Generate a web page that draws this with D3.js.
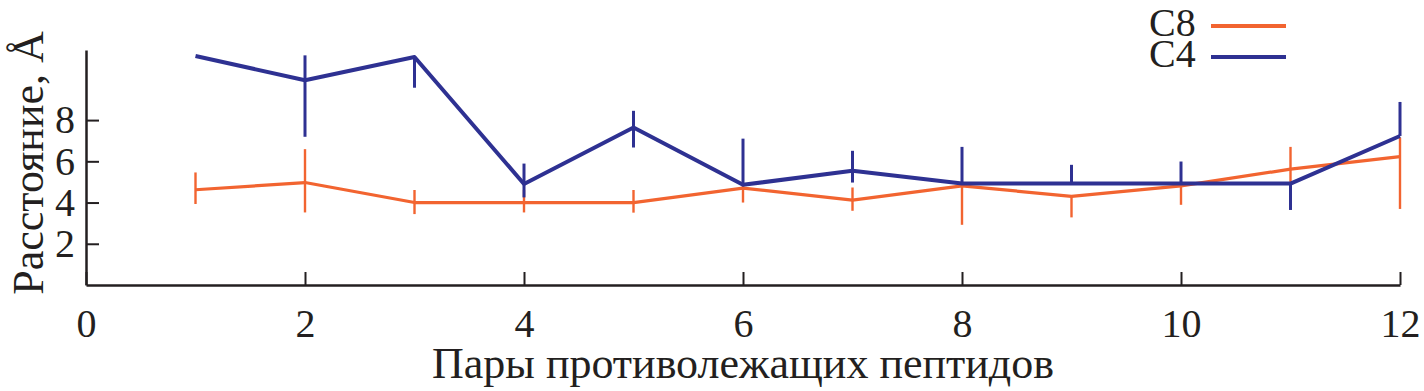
<!DOCTYPE html>
<html>
<head>
<meta charset="utf-8">
<script src="https://cdn.jsdelivr.net/npm/d3@7"></script>
<style>
  html, body { margin: 0; padding: 0; background: #fff; }
  svg { display: block; font-family: "Liberation Serif", "Times New Roman", serif; }
</style>
</head>
<body>
<svg id="chart" width="1424" height="391"></svg>
<script>
// ---- data ----
const pairs = [1, 2, 3, 4, 5, 6, 7, 8, 9, 10, 11, 12];
const c8Values = [4.62, 4.97, 4.00, 4.00, 4.00, 4.70, 4.12, 4.81, 4.30, 4.81, 5.62, 6.23];
const c8Upper  = [5.46, 6.59, 4.61, 4.61, 4.61, 4.81, 4.73, 4.81, 4.30, 4.81, 6.70, 7.15];
const c8Lower  = [3.93, 3.52, 3.44, 3.52, 3.51, 4.00, 3.60, 2.92, 3.28, 3.89, 4.97, 3.69];
const c4Values = [11.11, 9.93, 11.06, 4.90, 7.64, 4.86, 5.54, 4.92, 4.92, 4.92, 4.92, 7.23];
const c4Upper  = [11.11, 11.14, 11.06, 5.89, 8.45, 7.10, 6.51, 6.70, 5.83, 5.99, 4.92, 8.88];
const c4Lower  = [11.11, 7.19, 9.57, 4.25, 6.67, 4.86, 4.97, 4.92, 4.92, 4.92, 3.64, 7.23];
const xTicks = [0, 2, 4, 6, 8, 10, 12];
const yTicks = [2, 4, 6, 8];
const seriesNames = ["C8", "C4"];
const xTitle = "Пары противолежащих пептидов";
const yTitle = "Расстояние, Å";

// ---- styles ----
const colors = { C8: "#f26430", C4: "#2e3192" };
const ink = "#231f20";

const svg = d3.select("#chart");
const x = d3.scaleLinear().domain([0, 12]).range([86, 1400]);
const y = d3.scaleLinear().domain([0, 11.4]).range([285, 50]);

// axes
const xAxis = svg.append("g")
  .attr("transform", `translate(0,${y.range()[0]})`)
  .call(d3.axisBottom(x).tickValues(xTicks).tickSize(-13).tickSizeOuter(0).tickPadding(24));
const yAxis = svg.append("g")
  .attr("transform", `translate(${x.range()[0]},0)`)
  .call(d3.axisLeft(y).tickValues(yTicks).tickSize(-13).tickSizeOuter(0).tickPadding(11));

[xAxis, yAxis].forEach(g => {
  g.select(".domain").attr("stroke", ink).attr("stroke-width", 2.5);
  g.selectAll(".tick line").attr("stroke", ink).attr("stroke-width", 2);
  g.selectAll(".tick text").attr("fill", ink)
    .style("font-family", '"Liberation Serif", "Times New Roman", serif')
    .style("font-size", "40px");
});

// titles
svg.append("text")
  .attr("x", 743).attr("y", 378)
  .attr("text-anchor", "middle")
  .attr("fill", ink)
  .style("font-size", "44px")
  .text(xTitle);
svg.append("text")
  .attr("transform", "translate(43,163) rotate(-90)")
  .attr("text-anchor", "middle")
  .attr("fill", ink)
  .style("font-size", "44px")
  .text(yTitle);

// series
function drawSeries(name, vals, lo, hi, lw, ew) {
  const data = pairs.map((p, i) => ({ p, v: vals[i], lo: lo[i], hi: hi[i] }));
  const g = svg.append("g");
  g.selectAll("line.err").data(data).enter().append("line")
    .attr("class", "err")
    .attr("x1", d => x(d.p)).attr("x2", d => x(d.p))
    .attr("y1", d => y(d.hi)).attr("y2", d => y(d.lo))
    .attr("stroke", colors[name]).attr("stroke-width", ew);
  g.append("path").datum(data)
    .attr("fill", "none")
    .attr("stroke", colors[name])
    .attr("stroke-width", lw)
    .attr("stroke-linejoin", "round")
    .attr("d", d3.line().x(d => x(d.p)).y(d => y(d.v)));
}
drawSeries("C8", c8Values, c8Lower, c8Upper, 3.2, 2.4);
drawSeries("C4", c4Values, c4Lower, c4Upper, 4, 3);

// legend
const legend = svg.append("g");
seriesNames.forEach((n, i) => {
  const row = legend.append("g").attr("transform", `translate(0,${i * 31})`);
  row.append("text").attr("x", 1149).attr("y", 36)
    .attr("fill", ink).style("font-size", "40px").text(n);
  row.append("line").attr("x1", 1211).attr("x2", 1286).attr("y1", 26).attr("y2", 26)
    .attr("stroke", colors[n]).attr("stroke-width", 4);
});
</script>
</body>
</html>
